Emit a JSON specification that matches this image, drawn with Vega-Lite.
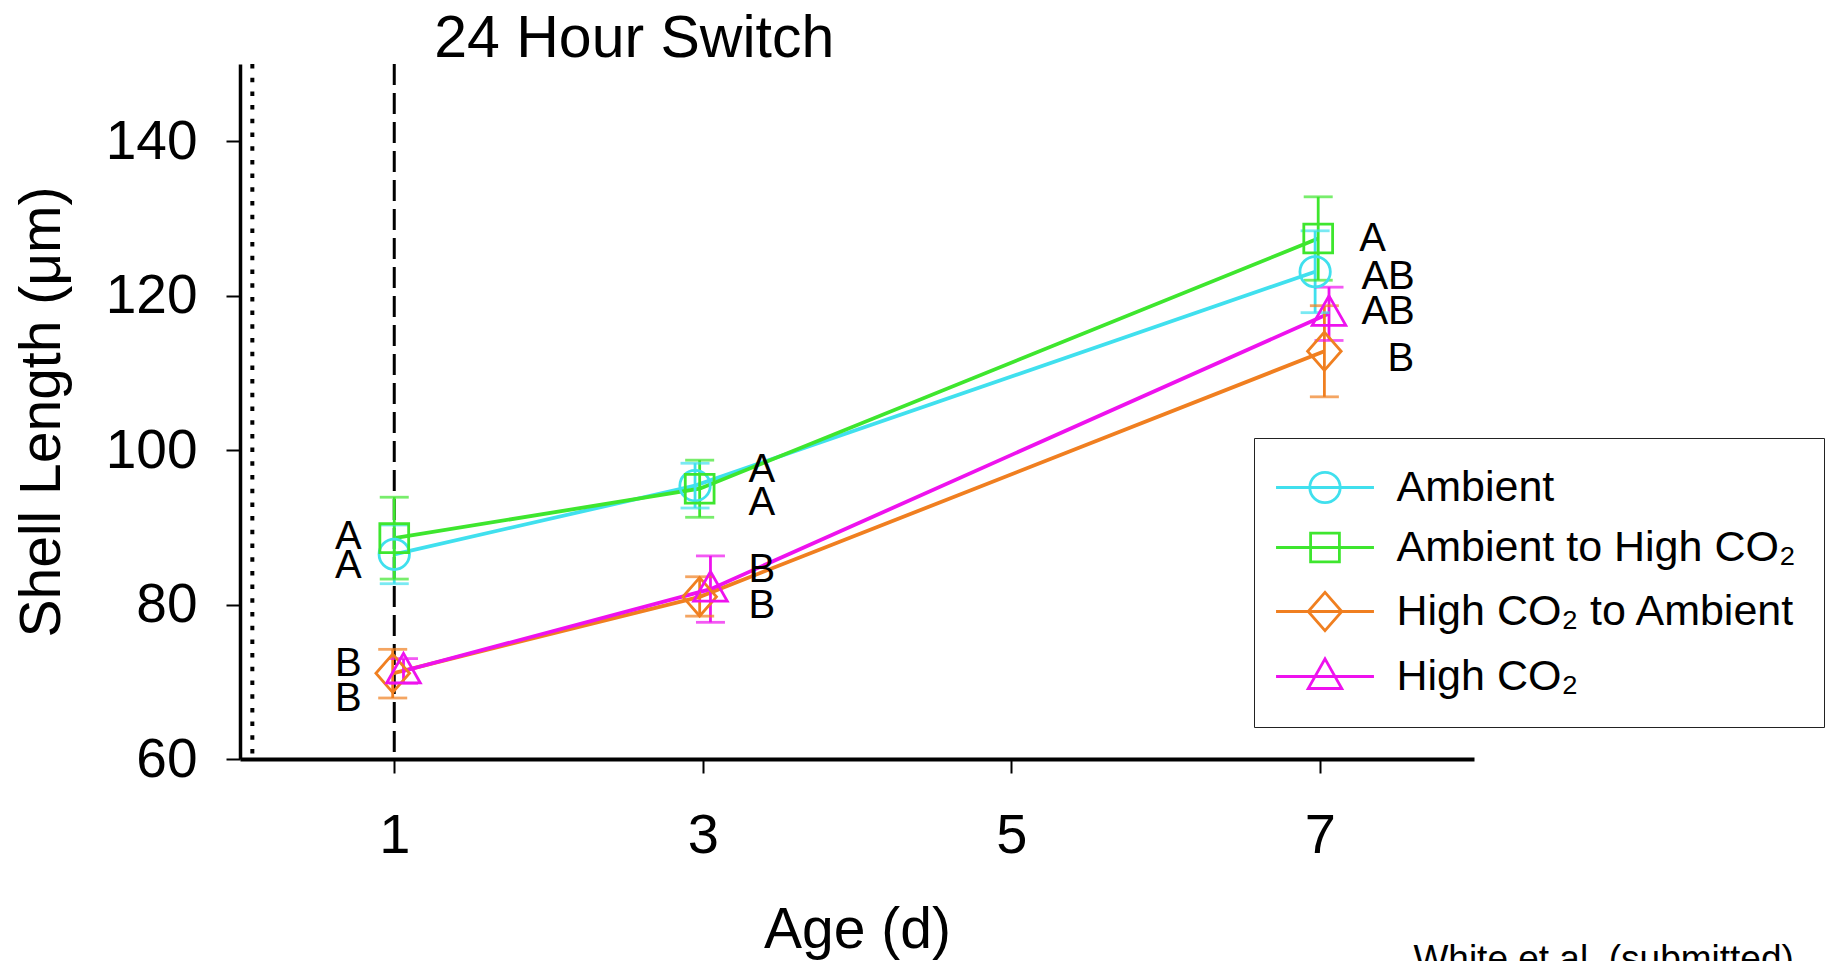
{
  "$schema": "https://vega.github.io/schema/vega-lite/v6.json",
  "width": 1234,
  "height": 695,
  "autosize": {"type": "none"},
  "padding": {"left": 240, "top": 64, "right": 351, "bottom": 202},
  "background": "white",
  "config": {
    "font": "Liberation Sans",
    "view": {"stroke": null},
    "axis": {
      "grid": false,
      "domainColor": "black",
      "tickColor": "black",
      "labelColor": "black",
      "titleColor": "black",
      "labelFont": "Liberation Sans",
      "titleFont": "Liberation Sans",
      "titleFontWeight": "normal"
    }
  },
  "datasets": {
    "means": [
      {"treatment": "Ambient", "day": 1.0, "length": 86.5, "lo": 82.7, "hi": 90.3},
      {"treatment": "Ambient", "day": 2.95, "length": 95.4, "lo": 92.5, "hi": 98.3},
      {"treatment": "Ambient", "day": 6.97, "length": 123.1, "lo": 117.8, "hi": 128.4},
      {"treatment": "High CO₂ to Ambient", "day": 0.99, "length": 71.1, "lo": 67.9, "hi": 74.2},
      {"treatment": "High CO₂ to Ambient", "day": 2.98, "length": 81.0, "lo": 78.5, "hi": 83.6},
      {"treatment": "High CO₂ to Ambient", "day": 7.03, "length": 112.8, "lo": 106.9, "hi": 118.7},
      {"treatment": "High CO₂", "day": 1.06, "length": 71.4, "lo": 69.8, "hi": 73.0},
      {"treatment": "High CO₂", "day": 3.05, "length": 82.0, "lo": 77.7, "hi": 86.3},
      {"treatment": "High CO₂", "day": 7.06, "length": 117.7, "lo": 114.2, "hi": 121.1},
      {"treatment": "Ambient to High CO₂", "day": 1.0, "length": 88.6, "lo": 83.3, "hi": 93.9},
      {"treatment": "Ambient to High CO₂", "day": 2.98, "length": 95.0, "lo": 91.3, "hi": 98.7},
      {"treatment": "Ambient to High CO₂", "day": 6.99, "length": 127.4, "lo": 122.0, "hi": 132.8}
    ],
    "letters": [
      {"letter": "A", "day": 0.789, "length": 88.75},
      {"letter": "A", "day": 0.789, "length": 85.0},
      {"letter": "B", "day": 0.789, "length": 72.3},
      {"letter": "B", "day": 0.789, "length": 67.8},
      {"letter": "A", "day": 3.297, "length": 97.4},
      {"letter": "A", "day": 3.297, "length": 93.2},
      {"letter": "B", "day": 3.297, "length": 84.5},
      {"letter": "B", "day": 3.297, "length": 79.8},
      {"letter": "A", "day": 7.256, "length": 127.3},
      {"letter": "AB", "day": 7.27, "length": 122.4},
      {"letter": "AB", "day": 7.27, "length": 117.9},
      {"letter": "B", "day": 7.44, "length": 111.8}
    ],
    "notes": [
      {"note": "24 Hour Switch", "day": 1.259, "length": 150.95, "size": "big"},
      {"note": "White et al. (submitted)", "day": 7.607, "length": 32.5, "size": "small"}
    ]
  },
  "layer": [
    {
      "data": {"values": [{}]},
      "mark": {"type": "rule", "color": "black", "strokeWidth": 4, "strokeDash": [4.5, 9.2]},
      "encoding": {"x": {"datum": 0.08, "type": "quantitative"}}
    },
    {
      "data": {"values": [{}]},
      "mark": {"type": "rule", "color": "black", "strokeWidth": 3, "strokeDash": [21, 8]},
      "encoding": {"x": {"datum": 1, "type": "quantitative"}}
    },
    {
      "data": {"name": "means"},
      "mark": {"type": "point", "filled": false, "opacity": 0, "size": 1024, "strokeWidth": 2.8},
      "encoding": {
        "x": {
          "field": "day", "type": "quantitative",
          "scale": {"domain": [0, 8], "nice": false, "zero": false},
          "axis": {
            "title": "Age (d)", "values": [1, 3, 5, 7], "format": "d",
            "labelFontSize": 56, "labelPadding": 35, "labelFlush": false,
            "tickSize": 14, "tickWidth": 2, "domainWidth": 4,
            "titleFontSize": 57, "titlePadding": 39
          }
        },
        "y": {
          "field": "length", "type": "quantitative",
          "scale": {"domain": [60, 150], "nice": false, "zero": false},
          "axis": {
            "title": "Shell Length (μm)", "values": [60, 80, 100, 120, 140], "format": "d",
            "labelFontSize": 55, "labelPadding": 29, "labelFlush": false,
            "tickSize": 14, "tickWidth": 2, "domainWidth": 3.5,
            "titleFontSize": 57, "titlePadding": 34
          }
        },
        "shape": {
          "field": "treatment", "type": "nominal",
          "scale": {
            "domain": ["Ambient", "Ambient to High CO₂", "High CO₂ to Ambient", "High CO₂"],
            "range": [
              "M-3.06,0H3.06M0.95,0A0.95,0.95,0,1,1,-0.95,0A0.95,0.95,0,1,1,0.95,0ZM0.95,0A0.95,0.95,0,1,0,-0.95,0A0.95,0.95,0,1,0,0.95,0Z",
              "M-3.06,0H3.06M-0.9,-0.9H0.9V0.9H-0.9ZM-0.9,-0.9V0.9H0.9V-0.9Z",
              "M-3.06,0H3.06M0,-1.2L1.05,0L0,1.2L-1.05,0ZM0,-1.2L-1.05,0L0,1.2L1.05,0Z",
              "M-3.06,0H3.06M0,-1.1L1.05,0.75H-1.05ZM0,-1.1L-1.05,0.75H1.05Z"
            ]
          },
          "legend": {
            "disable": false,
            "title": null,
            "orient": "none",
            "legendX": 1014,
            "legendY": 374,
            "direction": "vertical",
            "padding": 28,
            "rowPadding": 16,
            "symbolSize": 1024,
            "symbolStrokeWidth": 2.8,
            "symbolOpacity": 1,
            "symbolFillColor": "transparent",
            "symbolOffset": 21.5,
            "labelOffset": 50,
            "labelFont": "Liberation Sans",
            "labelFontSize": 43,
            "labelColor": "black",
            "labelLimit": 1000,
            "strokeColor": "#222222",
            "fillColor": "white"
          }
        },
        "color": {
          "field": "treatment", "type": "nominal",
          "scale": {
            "domain": ["Ambient", "Ambient to High CO₂", "High CO₂ to Ambient", "High CO₂"],
            "range": ["#40e0ee", "#3ee62e", "#f07f20", "#ee12ee"]
          },
          "legend": {
            "disable": false,
            "title": null,
            "orient": "none",
            "legendX": 1014,
            "legendY": 374,
            "direction": "vertical",
            "padding": 28,
            "rowPadding": 16,
            "symbolSize": 1024,
            "symbolStrokeWidth": 2.8,
            "symbolOpacity": 1,
            "symbolFillColor": "transparent",
            "symbolOffset": 21.5,
            "labelOffset": 50,
            "labelFont": "Liberation Sans",
            "labelFontSize": 43,
            "labelColor": "black",
            "labelLimit": 1000,
            "strokeColor": "#222222",
            "fillColor": "white"
          }
        }
      }
    },
    {
      "data": {"name": "means"},
      "mark": {"type": "line", "strokeWidth": 3.8},
      "encoding": {
        "x": {"field": "day", "type": "quantitative"},
        "y": {"field": "length", "type": "quantitative"},
        "color": {"field": "treatment", "type": "nominal", "legend": null},
        "order": {"field": "day"}
      }
    },
    {
      "data": {"name": "means"},
      "mark": {"type": "rule", "strokeWidth": 2.8},
      "encoding": {
        "x": {"field": "day", "type": "quantitative"},
        "y": {"field": "lo", "type": "quantitative"},
        "y2": {"field": "hi"},
        "color": {"field": "treatment", "type": "nominal", "legend": null}
      }
    },
    {
      "data": {"name": "means"},
      "mark": {"type": "tick", "orient": "horizontal", "size": 29, "thickness": 2.8},
      "encoding": {
        "x": {"field": "day", "type": "quantitative"},
        "y": {"field": "lo", "type": "quantitative"},
        "color": {"field": "treatment", "type": "nominal", "legend": null}
      }
    },
    {
      "data": {"name": "means"},
      "mark": {"type": "tick", "orient": "horizontal", "size": 29, "thickness": 2.8},
      "encoding": {
        "x": {"field": "day", "type": "quantitative"},
        "y": {"field": "hi", "type": "quantitative"},
        "color": {"field": "treatment", "type": "nominal", "legend": null}
      }
    },
    {
      "data": {"name": "means"},
      "transform": [{"filter": "datum.treatment === 'Ambient'"}],
      "mark": {"type": "point", "filled": false, "size": 1024, "strokeWidth": 2.8, "opacity": 1, "shape": "M0.95,0A0.95,0.95,0,1,1,-0.95,0A0.95,0.95,0,1,1,0.95,0Z"},
      "encoding": {
        "x": {"field": "day", "type": "quantitative"},
        "y": {"field": "length", "type": "quantitative"},
        "color": {"field": "treatment", "type": "nominal", "legend": null}
      }
    },
    {
      "data": {"name": "means"},
      "transform": [{"filter": "datum.treatment === 'High CO₂ to Ambient'"}],
      "mark": {"type": "point", "filled": false, "size": 1024, "strokeWidth": 2.8, "opacity": 1, "shape": "M0,-1.2L1.05,0L0,1.2L-1.05,0Z"},
      "encoding": {
        "x": {"field": "day", "type": "quantitative"},
        "y": {"field": "length", "type": "quantitative"},
        "color": {"field": "treatment", "type": "nominal", "legend": null}
      }
    },
    {
      "data": {"name": "means"},
      "transform": [{"filter": "datum.treatment === 'High CO₂'"}],
      "mark": {"type": "point", "filled": false, "size": 1024, "strokeWidth": 2.8, "opacity": 1, "shape": "M0,-1.1L1.05,0.75H-1.05Z"},
      "encoding": {
        "x": {"field": "day", "type": "quantitative"},
        "y": {"field": "length", "type": "quantitative"},
        "color": {"field": "treatment", "type": "nominal", "legend": null}
      }
    },
    {
      "data": {"name": "means"},
      "transform": [{"filter": "datum.treatment === 'Ambient to High CO₂'"}],
      "mark": {"type": "point", "filled": false, "size": 1024, "strokeWidth": 2.8, "opacity": 1, "shape": "M-0.9,-0.9H0.9V0.9H-0.9Z"},
      "encoding": {
        "x": {"field": "day", "type": "quantitative"},
        "y": {"field": "length", "type": "quantitative"},
        "color": {"field": "treatment", "type": "nominal", "legend": null}
      }
    },
    {
      "data": {"name": "letters"},
      "transform": [{"filter": "datum.day < 2"}],
      "mark": {"type": "text", "align": "right", "baseline": "middle", "fontSize": 40, "font": "Liberation Sans", "color": "black"},
      "encoding": {
        "x": {"field": "day", "type": "quantitative"},
        "y": {"field": "length", "type": "quantitative"},
        "text": {"field": "letter"}
      }
    },
    {
      "data": {"name": "letters"},
      "transform": [{"filter": "datum.day >= 2"}],
      "mark": {"type": "text", "align": "left", "baseline": "middle", "fontSize": 40, "font": "Liberation Sans", "color": "black"},
      "encoding": {
        "x": {"field": "day", "type": "quantitative"},
        "y": {"field": "length", "type": "quantitative"},
        "text": {"field": "letter"}
      }
    },
    {
      "data": {"name": "notes"},
      "transform": [{"filter": "datum.size === 'big'"}],
      "mark": {"type": "text", "align": "left", "baseline": "alphabetic", "fontSize": 59, "font": "Liberation Sans", "color": "black"},
      "encoding": {
        "x": {"field": "day", "type": "quantitative"},
        "y": {"field": "length", "type": "quantitative"},
        "text": {"field": "note"}
      }
    },
    {
      "data": {"name": "notes"},
      "transform": [{"filter": "datum.size === 'small'"}],
      "mark": {"type": "text", "align": "left", "baseline": "alphabetic", "fontSize": 37, "font": "Liberation Sans", "color": "black"},
      "encoding": {
        "x": {"field": "day", "type": "quantitative"},
        "y": {"field": "length", "type": "quantitative"},
        "text": {"field": "note"}
      }
    }
  ]
}
